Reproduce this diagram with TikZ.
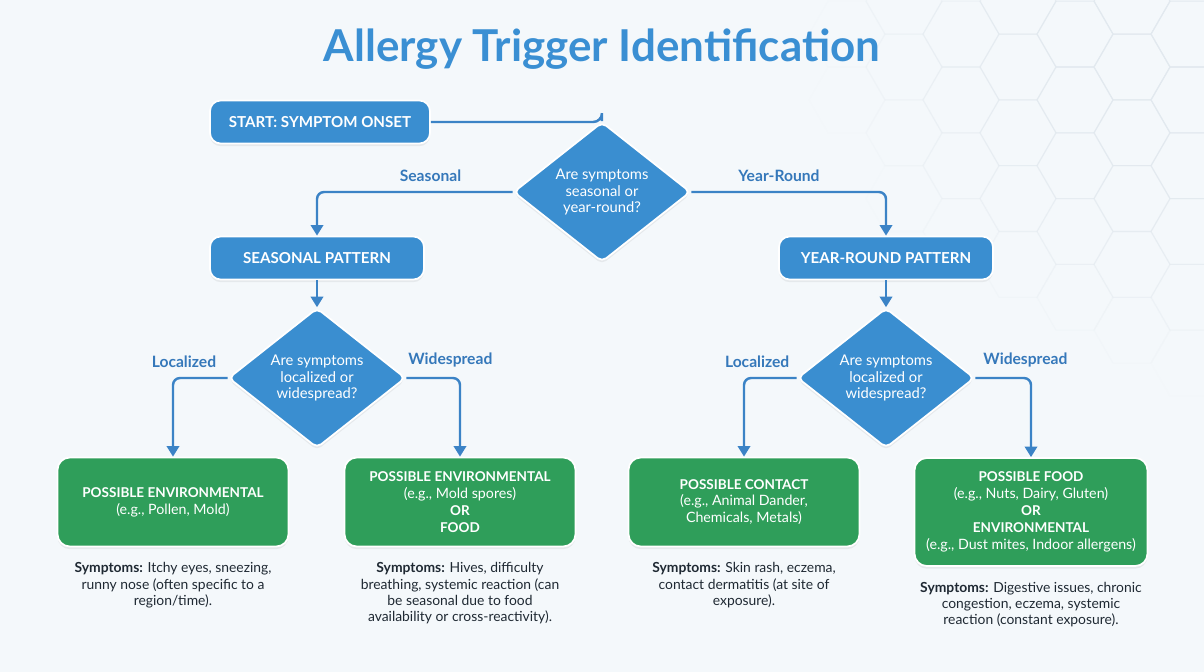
\documentclass[tikz,border=0pt]{standalone}
\usepackage{fontspec}
\setmainfont{Lato}
\usetikzlibrary{arrows.meta,positioning,shapes.geometric,shadows}
\definecolor{atblue}{HTML}{3A8ED0}
\definecolor{atline}{HTML}{3B83C6}
\definecolor{atlabel}{HTML}{3578BA}
\definecolor{attitle}{HTML}{3A8FD3}
\definecolor{atgreen}{HTML}{2F9E5A}
\definecolor{atdark}{HTML}{1F2933}
\definecolor{atbg}{HTML}{F4F8FB}
\definecolor{athex}{HTML}{E2E9EF}
\newcommand{\atcap}[1]{{\fontsize{7.7}{9.6}\selectfont\bfseries #1}}

\begin{document}
\begin{tikzpicture}[
  x=0.02cm, y=-0.02cm,
  title/.style={font=\fontsize{25}{28}\selectfont\bfseries, text=attitle},
  bluebox/.style={
    rectangle, draw=white, line width=1pt, fill=atblue, rounded corners=6pt,
    minimum width=4.28cm, minimum height=0.86cm, align=center, text=white,
    font=\fontsize{8.6}{10}\selectfont\bfseries,
    drop shadow={opacity=0.12, shadow xshift=0pt, shadow yshift=-1.5pt}
  },
  decision/.style={
    diamond, draw=white, line width=1pt, fill=atblue, rounded corners=3pt,
    minimum width=3.54cm, minimum height=2.36cm, inner sep=0pt,
    align=center, text=white, font=\fontsize{8.4}{9.6}\selectfont,
    drop shadow={opacity=0.12, shadow xshift=0pt, shadow yshift=-1.5pt}
  },
  greenbox/.style={
    rectangle, draw=white, line width=1pt, fill=atgreen, rounded corners=7pt,
    minimum width=4.62cm, minimum height=1.78cm, align=center, text=white,
    font=\fontsize{8.1}{9.6}\selectfont,
    drop shadow={opacity=0.12, shadow xshift=0pt, shadow yshift=-1.5pt}
  },
  symp/.style={align=center, inner sep=0pt, text=atdark,
    font=\fontsize{7.9}{9.2}\selectfont},
  lbl/.style={text=atlabel, font=\fontsize{8.9}{10}\selectfont\bfseries},
  arr/.style={-{Triangle[width=7pt,length=6pt]}, line width=1.4pt, draw=atline,
    rounded corners=4pt},
  link/.style={line width=1.4pt, draw=atline, rounded corners=5pt},
  hexline/.style={draw=athex, line width=0.6pt},
]
  % Background
  \fill[atbg] (0,0) rectangle (1204,672);
  \begin{scope}
    \clip (0,0) rectangle (1204,672);
    \foreach \i in {-3,...,4}
      \foreach \j in {-1,...,6} {
        \pgfmathsetmacro\hx{1018+57*\i}
        \pgfmathsetmacro\hy{67+65.8*\j+32.9*mod(\i+4,2)}
        \pgfmathsetmacro\hop{max(0,min(1,1.35-veclen(1204-\hx,\hy)/280))}
        \draw[hexline, opacity=\hop] (\hx,\hy)
          +(0:38) -- +(60:38) -- +(120:38) -- +(180:38) -- +(240:38) -- +(300:38) -- cycle;
      }
  \end{scope}

  % Title
  \node[title] (ttl) at (602,49) {Allergy Trigger Identification};

  % Top level
  \node[bluebox, minimum width=4.4cm] (start) at (320,122) {START: SYMPTOM ONSET};
  \node[decision] (q1) at (602,192) {Are symptoms\\seasonal or\\year-round?};

  % Patterns
  \node[bluebox] (seas) at (317,258) {SEASONAL PATTERN};
  \node[bluebox] (year) at (886,258) {YEAR-ROUND PATTERN};

  % Second decisions
  \node[decision] (q2) at (317,378) {Are symptoms\\localized or\\widespread?};
  \node[decision] (q3) at (886,378) {Are symptoms\\localized or\\widespread?};

  % Outcomes
  \node[greenbox] (envA) at (173,502) {\atcap{POSSIBLE ENVIRONMENTAL}\\(e.g., Pollen, Mold)};
  \node[greenbox] (envB) at (460,502) {\atcap{POSSIBLE ENVIRONMENTAL}\\(e.g., Mold spores)\\\atcap{OR}\\\atcap{FOOD}};
  \node[greenbox] (cont) at (744,502) {\atcap{POSSIBLE CONTACT}\\(e.g., Animal Dander,\\Chemicals, Metals)};
  \node[greenbox, minimum width=4.66cm, minimum height=2.16cm] (food) at (1031,512)
    {\atcap{POSSIBLE FOOD}\\(e.g., Nuts, Dairy, Gluten)\\\atcap{OR}\\\atcap{ENVIRONMENTAL}\\(e.g., Dust mites, Indoor allergens)};

  % Symptoms
  \node[symp, below=0.3cm of envA] (sA) {\textbf{Symptoms:} Itchy eyes, sneezing,\\runny nose (often specific to a\\region/time).};
  \node[symp, below=0.3cm of envB] (sB) {\textbf{Symptoms:} Hives, difficulty\\breathing, systemic reaction (can\\be seasonal due to food\\availability or cross-reactivity).};
  \node[symp, below=0.3cm of cont] (sC) {\textbf{Symptoms:} Skin rash, eczema,\\contact dermatitis (at site of\\exposure).};
  \node[symp, below=0.3cm of food] (sD) {\textbf{Symptoms:} Digestive issues, chronic\\congestion, eczema, systemic\\reaction (constant exposure).};

  % Connectors
  \draw[link] (start.east) -- (start.east -| q1.north) -- (q1.north);
  \draw[arr] (q1.west) -- node[lbl, above=2pt, pos=0.42] (tseas) {Seasonal} (q1.west -| seas.north) -- (seas.north);
  \draw[arr] (q1.east) -- node[lbl, above=2pt, pos=0.45] (tyear) {Year-Round} (q1.east -| year.north) -- (year.north);
  \draw[arr] (seas) -- (q2);
  \draw[arr] (year) -- (q3);
  \draw[arr] (q2.west) -- node[lbl, above=2pt, pos=0.8] (tlocA) {Localized} (q2.west -| envA.north) -- (envA.north);
  \draw[arr] (q2.east) -- node[lbl, above=2pt, pos=0.82] (twideA) {Widespread} (q2.east -| envB.north) -- (envB.north);
  \draw[arr] (q3.west) -- node[lbl, above=2pt, pos=0.75] (tlocB) {Localized} (q3.west -| cont.north) -- (cont.north);
  \draw[arr] (q3.east) -- node[lbl, above=2pt, pos=0.9] (twideB) {Widespread} (q3.east -| food.north) -- (food.north);
\end{tikzpicture}
\end{document}
